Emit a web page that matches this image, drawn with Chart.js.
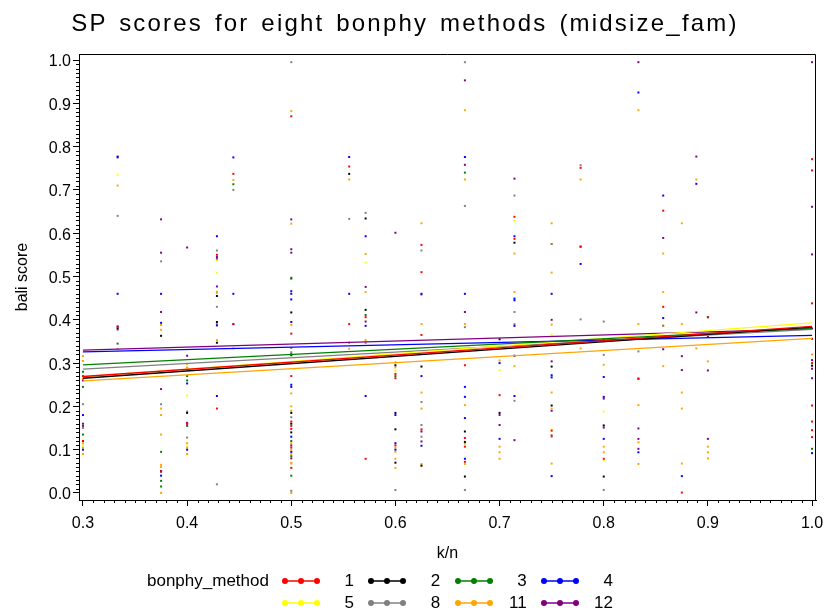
<!DOCTYPE html>
<html>
<head>
<meta charset="utf-8">
<script src="https://cdn.jsdelivr.net/npm/chart.js@4.4.1/dist/chart.umd.min.js"></script>
<style>
  body { margin: 0; background: #fff; font-family: "Liberation Sans", Arial, sans-serif; }
  #wrap { position: relative; width: 824px; height: 615px; }
  #chart { position: absolute; left: 0; top: 0; }
  #title { position: absolute; left: 0; top: 9px; width: 810px; text-align: center; font-size: 24px; letter-spacing: 2.2px; word-spacing: 3px; color: #000; }
  #legendTitle { position: absolute; left: 147px; top: 571px; font-size: 17px; }
  .item { position: absolute; height: 18px; width: 72px; }
  .item svg { position: absolute; left: 0; top: 4px; }
  .item span { position: absolute; right: 0; top: 0; width: 30px; text-align: right; font-size: 17px; }
</style>
</head>
<body>
<div id="wrap">
  <canvas id="chart" width="824" height="615"></canvas>
  <div id="title">SP scores for eight bonphy methods (midsize_fam)</div>
  <div id="legendTitle">bonphy_method</div>
  <div id="legend"></div>
</div>
<script>
const methods = ["1", "2", "3", "4", "5", "8", "11", "12"];
const colors = ["#ff0000", "#000000", "#008000", "#0000ff", "#ffff00", "#808080", "#ffa500", "#800080"];

// regression line ends, at k/n = 0.3 and k/n = 1.0
const fitX = [0.3, 1.0];
const fitStart = [0.269, 0.265, 0.296, 0.326, 0.268, 0.286, 0.259, 0.330];
const fitEnd = [0.385, 0.383, 0.380, 0.364, 0.393, 0.378, 0.357, 0.379];

const xTicks = [0.3, 0.4, 0.5, 0.6, 0.7, 0.8, 0.9, 1.0];
const yTicks = [0.0, 0.1, 0.2, 0.3, 0.4, 0.5, 0.6, 0.7, 0.8, 0.9, 1.0];

// [k/n, bali score] per method
const pts1 = [[0.3,0.27],[0.3,0.12],[0.3333,0.383],[0.375,0.05],[0.4,0.16],[0.4286,0.55],[0.4286,0.195],
  [0.4444,0.737],[0.4444,0.39],[0.5,0.87],[0.5,0.368],[0.5,0.27],[0.5,0.165],[0.5,0.155],[0.5,0.148],[0.5,0.105],[0.5,0.058],
  [0.5556,0.754],[0.5556,0.39],[0.5714,0.406],[0.5714,0.079],[0.6,0.275],[0.6,0.265],[0.6,0.11],
  [0.625,0.573],[0.625,0.51],[0.625,0.365],[0.625,0.147],[0.6667,0.295],[0.6667,0.127],[0.6667,0.107],[0.6667,0.072],
  [0.7,0.226],[0.7143,0.638],[0.7143,0.587],[0.75,0.144],[0.75,0.133],[0.7778,0.751],[0.7778,0.569],
  [0.8,0.353],[0.8,0.079],[0.8333,0.264],[0.8571,0.652],[0.8571,0.43],[0.875,0.001],[0.9,0.406],
  [1.0,0.771],[1.0,0.745],[1.0,0.438],[1.0,0.356],[1.0,0.3],[1.0,0.202],[1.0,0.165],[1.0,0.145],[1.0,0.129]];
const pts2 = [[0.3,0.12],[0.3333,0.38],[0.375,0.363],[0.375,0.05],[0.4,0.185],[0.4286,0.455],[0.4286,0.395],[0.4286,0.347],
  [0.5,0.417],[0.5,0.32],[0.5,0.185],[0.5,0.16],[0.5,0.14],[0.5556,0.737],[0.5714,0.634],[0.5714,0.423],
  [0.6,0.295],[0.6,0.185],[0.6,0.147],[0.6,0.07],[0.625,0.292],[0.625,0.063],[0.6667,0.142],[0.6667,0.118],[0.6667,0.038],
  [0.7,0.355],[0.7,0.185],[0.7143,0.578],[0.7143,0.317],[0.75,0.292],[0.75,0.202],[0.8,0.156],[0.8,0.038],[1.0,0.294]];
const pts3 = [[0.3,0.28],[0.3,0.245],[0.3,0.135],[0.3333,0.345],[0.375,0.095],[0.375,0.028],[0.375,0.015],
  [0.4,0.27],[0.4,0.26],[0.4,0.155],[0.4444,0.713],[0.5,0.497],[0.5,0.495],[0.5,0.318],[0.5,0.12],[0.5,0.085],[0.5,0.04],
  [0.5714,0.411],[0.6,0.27],[0.6667,0.74],[0.9,0.406],[1.0,0.102]];
const pts4 = [[0.3,0.18],[0.3,0.1],[0.3333,0.777],[0.3333,0.46],[0.375,0.46],[0.375,0.393],[0.375,0.04],[0.4,0.253],[0.4,0.1],
  [0.4286,0.593],[0.4286,0.387],[0.4286,0.224],[0.4444,0.775],[0.4444,0.46],
  [0.5,0.466],[0.5,0.46],[0.5,0.447],[0.5,0.395],[0.5,0.25],[0.5,0.245],[0.5,0.13],[0.5,0.095],
  [0.5556,0.776],[0.5556,0.46],[0.5714,0.593],[0.5714,0.386],[0.5714,0.224],[0.6,0.18],[0.6,0.115],[0.6,0.1],
  [0.625,0.46],[0.625,0.27],[0.625,0.109],[0.6667,0.776],[0.6667,0.46],[0.6667,0.245],[0.6667,0.222],[0.6667,0.173],[0.6667,0.079],
  [0.7,0.3],[0.7,0.125],[0.7143,0.593],[0.7143,0.449],[0.7143,0.445],[0.7143,0.386],[0.7143,0.224],
  [0.75,0.46],[0.75,0.272],[0.75,0.267],[0.75,0.039],[0.7778,0.529],[0.8,0.268],[0.8,0.222],[0.8,0.125],
  [0.8333,0.925],[0.8333,0.094],[0.8571,0.687],[0.8571,0.404],[0.875,0.039],[0.8889,0.714],[1.0,0.092]];
const pts5 = [[0.3,0.27],[0.3,0.11],[0.3333,0.735],[0.4,0.225],[0.4,0.11],[0.4286,0.537],[0.4286,0.508],
  [0.5714,0.532],[0.6,0.282],[0.7,0.284],[0.7143,0.629],[0.75,0.366],[0.75,0.147],[0.8,0.188],[0.8,0.075]];
const pts8 = [[0.3,0.205],[0.3,0.15],[0.3333,0.64],[0.3333,0.377],[0.375,0.535],[0.375,0.205],[0.4,0.188],[0.4,0.128],
  [0.4286,0.56],[0.4286,0.43],[0.4286,0.39],[0.4286,0.02],[0.4444,0.7],[0.5,0.995],[0.5,0.335],[0.5,0.325],[0.5,0.175],[0.5,0.005],
  [0.5556,0.633],[0.5556,0.347],[0.5714,0.647],[0.5714,0.347],[0.6,0.007],
  [0.625,0.56],[0.625,0.458],[0.625,0.21],[0.625,0.157],[0.625,0.13],[0.6667,0.995],[0.6667,0.663],[0.6667,0.383],[0.6667,0.007],
  [0.7143,0.687],[0.7143,0.418],[0.7143,0.39],[0.7143,0.213],[0.75,0.575],[0.75,0.13],[0.7778,0.757],[0.7778,0.401],
  [0.8,0.396],[0.8,0.319],[0.8,0.007],[0.8333,0.327],[0.8571,0.386]];
const pts11 = [[0.3,0.316],[0.3,0.305],[0.3,0.265],[0.3,0.115],[0.3,0.105],[0.3,0.09],[0.3333,0.71],[0.3333,0.333],
  [0.375,0.388],[0.375,0.377],[0.375,0.195],[0.375,0.18],[0.375,0.135],[0.375,0.065],[0.375,0.06],[0.375,0.0],
  [0.4,0.298],[0.4,0.29],[0.4,0.115],[0.4,0.105],[0.4,0.09],[0.4286,0.465],[0.4286,0.462],[0.4286,0.353],[0.4444,0.723],[0.4444,0.334],
  [0.5,0.882],[0.5,0.622],[0.5,0.388],[0.5,0.23],[0.5,0.2],[0.5,0.19],[0.5,0.115],[0.5,0.1],[0.5,0.09],[0.5,0.07],[0.5,0.068],[0.5,0.0],
  [0.5556,0.724],[0.5556,0.333],[0.5714,0.552],[0.5714,0.464],[0.5714,0.353],
  [0.6,0.302],[0.6,0.29],[0.6,0.105],[0.6,0.095],[0.6,0.079],[0.6,0.058],
  [0.625,0.623],[0.625,0.39],[0.625,0.232],[0.625,0.195],[0.625,0.067],
  [0.6667,0.884],[0.6667,0.724],[0.6667,0.39],[0.6667,0.203],[0.6667,0.114],[0.6667,0.067],
  [0.7,0.306],[0.7,0.107],[0.7,0.094],[0.7,0.079],[0.7143,0.553],[0.7143,0.464],[0.7143,0.293],
  [0.75,0.623],[0.75,0.575],[0.75,0.509],[0.75,0.389],[0.75,0.232],[0.75,0.195],[0.75,0.068],
  [0.7778,0.724],[0.7778,0.334],[0.8,0.296],[0.8,0.107],[0.8,0.094],
  [0.8333,0.884],[0.8333,0.39],[0.8333,0.203],[0.8333,0.117],[0.8333,0.067],
  [0.8571,0.553],[0.8571,0.464],[0.8571,0.387],[0.8571,0.293],
  [0.875,0.623],[0.875,0.39],[0.875,0.232],[0.875,0.195],[0.875,0.068],[0.8889,0.724],[0.8889,0.334],
  [0.9,0.304],[0.9,0.107],[0.9,0.094],[0.9,0.08],[1.0,0.32]];
const pts12 = [[0.3,0.26],[0.3,0.16],[0.3,0.155],[0.3,0.12],[0.3333,0.775],[0.3333,0.385],
  [0.375,0.632],[0.375,0.555],[0.375,0.418],[0.375,0.24],[0.375,0.05],[0.4,0.567],[0.4,0.317],[0.4,0.162],[0.4,0.16],
  [0.4286,0.545],[0.4286,0.54],[0.4286,0.477],[0.4444,0.39],[0.5,0.632],[0.5,0.563],[0.5,0.555],[0.5,0.11],[0.5,0.08],
  [0.5714,0.476],[0.5714,0.396],[0.6,0.601],[0.625,0.142],[0.625,0.119],[0.6667,0.953],[0.6667,0.758],[0.6667,0.418],
  [0.7,0.18],[0.7,0.157],[0.7143,0.726],[0.7143,0.122],[0.75,0.4],[0.75,0.304],[0.75,0.19],[0.7778,0.569],
  [0.8,0.218],[0.8,0.151],[0.8333,0.995],[0.8333,0.264],[0.8333,0.149],[0.8333,0.125],[0.8333,0.102],
  [0.8571,0.589],[0.8571,0.332],[0.875,0.316],[0.875,0.284],[0.8889,0.777],[0.8889,0.417],
  [0.9,0.361],[0.9,0.283],[0.9,0.125],[1.0,0.995],[1.0,0.661],[1.0,0.551],[1.0,0.38],[1.0,0.307],[1.0,0.287],[1.0,0.265]];

const points = [pts1, pts2, pts3, pts4, pts5, pts8, pts11, pts12];

const datasets = [];
methods.forEach((m, i) => {
  datasets.push({
    type: "line",
    label: m + " fit",
    data: [{ x: fitX[0], y: fitStart[i] }, { x: fitX[1], y: fitEnd[i] }],
    borderColor: colors[i],
    borderWidth: 1.3,
    pointRadius: 0,
    fill: false,
    order: 1
  });
  datasets.push({
    type: "scatter",
    label: m,
    data: points[i].map(p => ({ x: p[0], y: p[1] })),
    backgroundColor: colors[i],
    pointStyle: "rect",
    pointRadius: 1.4,
    borderWidth: 0,
    order: 2
  });
});

// top/right frame and the short minor ticks
const frame = {
  id: "frame",
  afterDraw(chart) {
    const { ctx, chartArea: a, scales: { x, y } } = chart;
    ctx.save();
    ctx.strokeStyle = "#000";
    ctx.lineWidth = 1;
    ctx.beginPath();
    ctx.moveTo(a.left, a.top + 0.5);
    ctx.lineTo(a.right - 0.5, a.top + 0.5);
    ctx.lineTo(a.right - 0.5, a.bottom);
    for (let i = 30; i <= 100; i++) {
      if (i % 10 === 0) continue;
      const px = Math.round(x.getPixelForValue(i / 100)) + 0.5;
      ctx.moveTo(px, a.bottom);
      ctx.lineTo(px, a.bottom + 3);
    }
    for (let i = 0; i <= 100; i++) {
      if (i % 10 === 0) continue;
      const py = Math.round(y.getPixelForValue(i / 100)) + 0.5;
      ctx.moveTo(a.left, py);
      ctx.lineTo(a.left - 3, py);
    }
    ctx.stroke();
    ctx.restore();
  }
};

const font = { family: "'Liberation Sans', Arial, sans-serif", size: 16 };

new Chart(document.getElementById("chart"), {
  type: "scatter",
  data: { datasets },
  options: {
    responsive: false,
    animation: false,
    devicePixelRatio: 1,
    layout: { padding: { top: 54, right: 8, left: 0, bottom: 52 } },
    plugins: { legend: { display: false }, tooltip: { enabled: false } },
    scales: {
      x: {
        type: "linear",
        min: 0.2962,
        max: 1.0038,
        afterBuildTicks: s => { s.ticks = xTicks.map(v => ({ value: v })); },
        afterFit: s => { s.height = 63; s.paddingLeft = 0; s.paddingRight = 0; },
        ticks: { callback: v => v.toFixed(1), font, color: "#000", padding: 8, maxRotation: 0, autoSkip: false },
        grid: { drawOnChartArea: false, tickLength: 6, color: "#000" },
        border: { color: "#000", width: 1 },
        title: { display: true, text: "k/n", font, color: "#000", padding: { top: 10, bottom: 0 } }
      },
      y: {
        type: "linear",
        min: -0.0162,
        max: 1.0139,
        afterBuildTicks: s => { s.ticks = yTicks.map(v => ({ value: v })); },
        afterFit: s => { s.width = 79; s.paddingTop = 0; s.paddingBottom = 0; },
        ticks: { callback: v => v.toFixed(1), font, color: "#000", padding: 2, labelOffset: 2, autoSkip: false },
        grid: { drawOnChartArea: false, tickLength: 6, color: "#000" },
        border: { color: "#000", width: 1 },
        title: { display: true, text: "bali score", font, color: "#000", padding: { top: 13, bottom: 0 } }
      }
    }
  },
  plugins: [frame]
});

// legend, two rows of four
const legend = document.getElementById("legend");
methods.forEach((m, i) => {
  const col = i % 4, row = Math.floor(i / 4);
  const item = document.createElement("div");
  item.className = "item";
  item.style.left = (282 + col * 86.3) + "px";
  item.style.top = (571 + row * 22) + "px";
  const c = colors[i];
  item.innerHTML =
    '<svg width="38" height="12"><line x1="2" y1="6" x2="36" y2="6" stroke="' + c + '" stroke-width="1.5"/>' +
    '<circle cx="3" cy="6" r="3" fill="' + c + '"/><circle cx="19" cy="6" r="3" fill="' + c + '"/>' +
    '<circle cx="35" cy="6" r="3" fill="' + c + '"/></svg><span>' + m + '</span>';
  legend.appendChild(item);
});
</script>
</body>
</html>
